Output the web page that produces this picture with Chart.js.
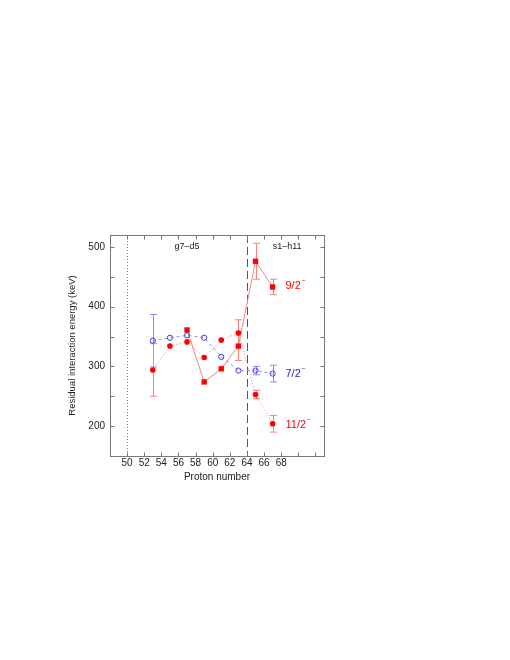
<!DOCTYPE html>
<html>
<head>
<meta charset="utf-8">
<script src="https://cdn.jsdelivr.net/npm/chart.js@4.4.0/dist/chart.umd.min.js"></script>
<style>
  body { margin: 0; background: #fff; }
  canvas { display: block; }
</style>
</head>
<body>
<canvas id="chart" width="510" height="660"></canvas>
<script>
// values (keV)
const protonX = [53, 55, 57, 59, 61, 63, 65, 67];
const energy72 = [343, 348, 352, 348, 316, 293, 293, 288];
const error72 = [44, 0, 0, 0, 0, 0, 7, 14];
const energy112 = [294, 334, 341, 315, 344, 356, 253, 204];
const error112 = [44, 0, 0, 0, 0, 22, 7, 14];
const protonX92 = [57, 59, 61, 63, 65, 67];
const energy92 = [361, 274, 296, 334, 476, 433];
const error92 = [0, 0, 0, 24, 30, 13];

const xTicks = [48, 50, 52, 54, 56, 58, 60, 62, 64, 66, 68, 70, 72];
const xLabels = [50, 52, 54, 56, 58, 60, 62, 64, 66, 68];
const yTicks = [200, 250, 300, 350, 400, 450, 500];
const yLabels = [200, 300, 400, 500];

const FONT = '"Liberation Sans", Arial, sans-serif';

function pts(xs, ys) {
  return xs.map((x, i) => ({ x: x, y: ys[i] }));
}

// vertical reference lines at Z=50 and Z=64
const refLines = {
  id: 'refLines',
  beforeDatasetsDraw(chart) {
    const { ctx, chartArea: a, scales: { x } } = chart;
    ctx.save();
    ctx.lineWidth = 1;
    ctx.strokeStyle = '#888';
    ctx.setLineDash([1, 2]);
    let px = Math.round(x.getPixelForValue(50)) + 0.5;
    ctx.beginPath(); ctx.moveTo(px, a.top); ctx.lineTo(px, a.bottom); ctx.stroke();
    ctx.strokeStyle = '#555';
    ctx.setLineDash([8, 4]);
    px = Math.round(x.getPixelForValue(64)) + 0.5;
    ctx.beginPath(); ctx.moveTo(px, a.top); ctx.lineTo(px, a.bottom); ctx.stroke();
    ctx.restore();
  }
};

const errorBars = {
  id: 'errorBars',
  beforeDatasetsDraw(chart) {
    const { ctx, scales: { x, y } } = chart;
    ctx.save();
    ctx.lineWidth = 1;
    ctx.setLineDash([]);
    chart.data.datasets.forEach(ds => {
      if (!ds.errors) return;
      ctx.strokeStyle = ds.errColor;
      ds.data.forEach((p, i) => {
        const e = ds.errors[i];
        if (!e) return;
        const px = Math.round(x.getPixelForValue(p.x)) + 0.5;
        const y1 = y.getPixelForValue(p.y + e);
        const y2 = y.getPixelForValue(p.y - e);
        ctx.beginPath();
        ctx.moveTo(px, y1); ctx.lineTo(px, y2);
        ctx.moveTo(px - 3.5, y1); ctx.lineTo(px + 3.5, y1);
        ctx.moveTo(px - 3.5, y2); ctx.lineTo(px + 3.5, y2);
        ctx.stroke();
      });
    });
    ctx.restore();
  }
};

// gnuplot-style frame with inward ticks on all sides
const frame = {
  id: 'frame',
  afterDraw(chart) {
    const { ctx, chartArea: a, scales: { x, y } } = chart;
    ctx.save();
    ctx.strokeStyle = '#777';
    ctx.lineWidth = 1;
    const L = Math.round(a.left) + 0.5, R = Math.round(a.right) + 0.5;
    const T = Math.round(a.top) + 0.5, B = Math.round(a.bottom) + 0.5;
    ctx.strokeRect(L, T, R - L, B - T);
    ctx.beginPath();
    xTicks.forEach(v => {
      const px = Math.round(x.getPixelForValue(v)) + 0.5;
      ctx.moveTo(px, B); ctx.lineTo(px, B - 4);
      ctx.moveTo(px, T); ctx.lineTo(px, T + 4);
    });
    yTicks.forEach(v => {
      const py = Math.round(y.getPixelForValue(v)) + 0.5;
      ctx.moveTo(L, py); ctx.lineTo(L + 4, py);
      ctx.moveTo(R, py); ctx.lineTo(R - 4, py);
    });
    ctx.stroke();
    ctx.restore();
  }
};

// in-plot annotations
const notes = {
  id: 'notes',
  afterDatasetsDraw(chart) {
    const { ctx, scales: { x, y } } = chart;
    ctx.save();
    ctx.textBaseline = 'middle';
    ctx.font = '9px ' + FONT;
    ctx.fillStyle = '#222';
    ctx.textAlign = 'center';
    ctx.fillText('g7\u2013d5', x.getPixelForValue(57), y.getPixelForValue(500));
    ctx.fillText('s1\u2013h11', x.getPixelForValue(68.7), y.getPixelForValue(500));
    ctx.textAlign = 'left';
    const spin = (txt, color, yv) => {
      const px = x.getPixelForValue(68.5);
      const py = y.getPixelForValue(yv);
      ctx.fillStyle = color;
      ctx.font = '11px ' + FONT;
      ctx.fillText(txt, px, py);
      const w = ctx.measureText(txt).width;
      ctx.font = '7px ' + FONT;
      ctx.fillText('\u2212', px + w + 0.5, py - 5);
    };
    spin('9/2', '#ff0000', 435);
    spin('7/2', '#1a1ae6', 288);
    spin('11/2', '#ff0000', 202);
    ctx.restore();
  }
};

new Chart(document.getElementById('chart'), {
  type: 'scatter',
  data: {
    datasets: [
      {
        label: '7/2-',
        data: pts(protonX, energy72),
        errors: error72,
        errColor: '#8c8cf5',
        showLine: true,
        borderColor: '#8c8cf5',
        borderWidth: 1,
        borderDash: [3, 3],
        pointStyle: 'circle',
        pointRadius: 2.6,
        pointBorderColor: '#3c3cf0',
        pointBackgroundColor: 'rgba(0,0,0,0)',
        pointBorderWidth: 1
      },
      {
        label: '11/2-',
        data: pts(protonX, energy112),
        errors: error112,
        errColor: '#f78080',
        showLine: true,
        borderColor: '#f78080',
        borderWidth: 1,
        borderDash: [1, 2],
        pointStyle: 'circle',
        pointRadius: 2.8,
        pointBorderColor: '#ff0000',
        pointBackgroundColor: '#ff0000',
        pointBorderWidth: 0
      },
      {
        label: '9/2-',
        data: pts(protonX92, energy92),
        errors: error92,
        errColor: '#f78080',
        showLine: true,
        borderColor: '#f78080',
        borderWidth: 1,
        pointStyle: 'rect',
        pointRadius: 3.8,
        pointBorderColor: '#ff0000',
        pointBackgroundColor: '#ff0000',
        pointBorderWidth: 0
      }
    ]
  },
  options: {
    responsive: false,
    animation: false,
    events: [],
    layout: { padding: { left: 60, top: 235, right: 186, bottom: 174 } },
    plugins: { legend: { display: false }, tooltip: { enabled: false } },
    scales: {
      x: {
        type: 'linear',
        min: 48,
        max: 73,
        grid: { display: false, drawTicks: false },
        border: { display: false },
        afterBuildTicks: s => { s.ticks = xTicks.map(v => ({ value: v })); },
        afterFit: s => { s.height = 30; },
        ticks: {
          autoSkip: false,
          maxRotation: 0,
          padding: 1,
          color: '#222',
          font: { family: FONT, size: 10 },
          callback: v => (xLabels.includes(v) ? String(v) : '')
        },
        title: {
          display: true,
          text: 'Proton number',
          color: '#222',
          font: { family: FONT, size: 10 },
          padding: { top: 0, bottom: 3 }
        }
      },
      y: {
        type: 'linear',
        min: 150,
        max: 520,
        grid: { display: false, drawTicks: false },
        border: { display: false },
        afterBuildTicks: s => { s.ticks = yTicks.map(v => ({ value: v })); },
        afterFit: s => { s.width = 50; },
        ticks: {
          autoSkip: false,
          padding: 5,
          color: '#222',
          font: { family: FONT, size: 10 },
          callback: v => (yLabels.includes(v) ? String(v) : '')
        },
        title: {
          display: true,
          text: 'Residual interaction energy (keV)',
          color: '#222',
          font: { family: FONT, size: 9.5 },
          padding: { top: 7, bottom: 0 }
        }
      }
    }
  },
  plugins: [refLines, errorBars, notes, frame]
});
</script>
</body>
</html>
